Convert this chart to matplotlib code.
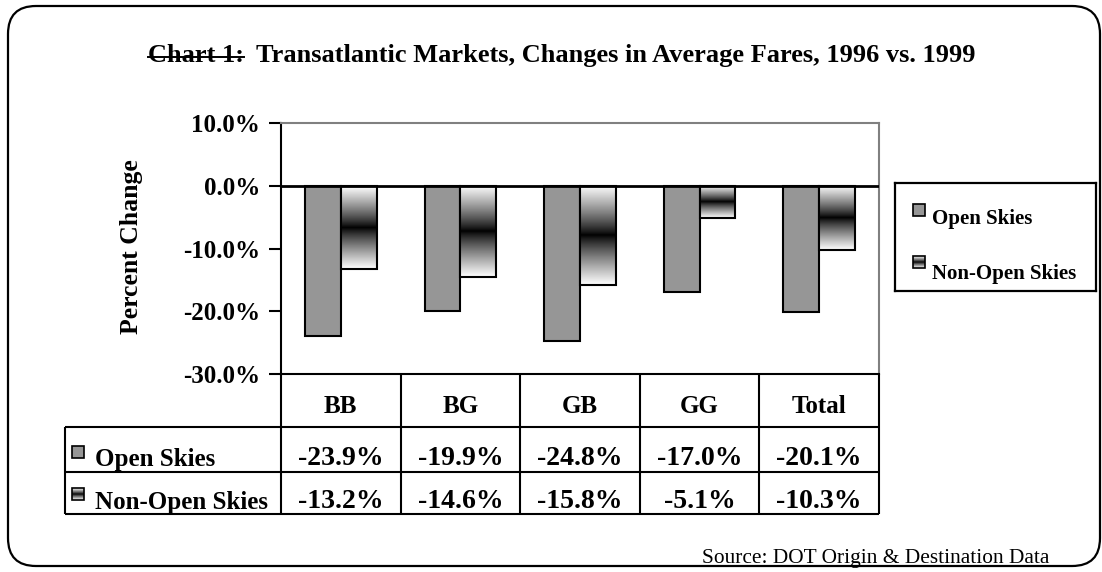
import matplotlib.pyplot as plt
import numpy as np
from matplotlib.patches import FancyBboxPatch, Rectangle
from matplotlib.lines import Line2D

# datos
categories = ['BB', 'BG', 'GB', 'GG', 'Total']
open_skies = [-23.9, -19.9, -24.8, -17.0, -20.1]
non_open_skies = [-13.2, -14.6, -15.8, -5.1, -10.3]
series_names = ['Open Skies', 'Non-Open Skies']
y_ticks = [10, 0, -10, -20, -30]

plt.rcParams['font.family'] = ['Liberation Serif', 'DejaVu Serif']
plt.rcParams['font.weight'] = 'bold'

W, H = 1102, 572
fig = plt.figure(figsize=(W / 100, H / 100), dpi=100)


def fx(px):
    return px / W


def fy(py):
    return 1 - py / H


GRAY = '#969696'
# degradado: blanco arriba/abajo, negro en el centro
t = np.linspace(-1, 1, 256)
grad = (np.abs(t) ** 0.85)[:, None]


def grad_box(ax, x0, x1, y0, y1, z):
    ax.imshow(grad, cmap='gray', vmin=0, vmax=1, extent=[x0, x1, y0, y1],
              aspect='auto', zorder=z, interpolation='bilinear')


# marco redondeado
frame = FancyBboxPatch((0.08, 0.06), 10.92, 5.60,
                       boxstyle='round,pad=0,rounding_size=0.28',
                       transform=fig.dpi_scale_trans, facecolor='none',
                       edgecolor='black', linewidth=1.6)
fig.add_artist(frame)

# titulo
t1 = fig.text(fx(148), fy(62), 'Chart 1:', fontsize=19, va='baseline')
fig.canvas.draw()
bb = t1.get_window_extent()
fig.text(fx(bb.x1 + 12), fy(62),
         'Transatlantic Markets, Changes in Average Fares, 1996 vs. 1999',
         fontsize=19, va='baseline')
fig.add_artist(Line2D([bb.x0 / W, bb.x1 / W], [fy(57), fy(57)],
                      transform=fig.transFigure, color='black', lw=1.4))

# ---------------- grafico de barras ----------------
ax = fig.add_axes([fx(281), fy(374), fx(879) - fx(281), fy(123) - fy(374)])
x = np.arange(len(categories))
w = 0.3
ax.bar(x - w / 2, open_skies, w, color=GRAY, edgecolor='black',
       linewidth=1.5, zorder=3)
bars2 = ax.bar(x + w / 2, non_open_skies, w, facecolor='none',
               edgecolor='black', linewidth=1.5, zorder=4)
for bar in bars2:
    x0 = bar.get_x()
    grad_box(ax, x0, x0 + bar.get_width(), bar.get_y() + bar.get_height(),
             bar.get_y(), 3)

ax.axhline(0, color='black', lw=2, zorder=5)
ax.set_xlim(-0.5, len(categories) - 0.5)
ax.set_ylim(-30, 10)
ax.set_yticks(y_ticks)
ax.set_yticklabels([f'{v:.1f}%' for v in y_ticks])
ax.set_xticks([])
ax.tick_params(axis='y', direction='out', length=9, width=1.5,
               labelsize=18, pad=6)
for s in ['top', 'right']:
    ax.spines[s].set_color('#808080')
    ax.spines[s].set_linewidth(1.5)
for s in ['left', 'bottom']:
    ax.spines[s].set_color('black')
    ax.spines[s].set_linewidth(1.5)
ax.set_ylabel('Percent Change', fontsize=18.5, fontweight='bold')
ax.yaxis.set_label_coords((143 - 281) / 598, (374 - 247) / 251)

# ---------------- tabla de datos ----------------
ax_t = fig.add_axes([fx(65), fy(514), fx(879) - fx(65), fy(374) - fy(514)])
ax_t.set_xlim(0, 814)
ax_t.set_ylim(140, 0)
ax_t.axis('off')
col_w = (814 - 216) / len(categories)
col_edges = [216 + col_w * k for k in range(len(categories) + 1)]
row_edges = [53, 98, 140]
ax_t.vlines(col_edges, 0, 140, color='black', lw=1.5, clip_on=False)
ax_t.vlines(0, 53, 140, color='black', lw=1.5, clip_on=False)
ax_t.hlines(row_edges, 0, 814, color='black', lw=1.5, clip_on=False)

for i, c in enumerate(categories):
    ax_t.text(216 + col_w * (i + 0.5), 39, c, ha='center', va='baseline',
              fontsize=18)
base_rows = [91, 134]
for r, serie in enumerate([open_skies, non_open_skies]):
    for i, v in enumerate(serie):
        ax_t.text(216 + col_w * (i + 0.5), base_rows[r], f'{v:.1f}%',
                  ha='center', va='baseline', fontsize=20)
    ax_t.text(30, base_rows[r] + 1, series_names[r], ha='left',
              va='baseline', fontsize=18)

# iconos de la tabla
ax_t.add_patch(Rectangle((7, 72), 12, 12, facecolor=GRAY, edgecolor='black',
                         lw=1.2, zorder=3))
grad_box(ax_t, 7, 19, 126, 114, 2)
ax_t.add_patch(Rectangle((7, 114), 12, 12, facecolor='none',
                         edgecolor='black', lw=1.2, zorder=3))

# ---------------- leyenda ----------------
ax_l = fig.add_axes([fx(895), fy(291), fx(1096) - fx(895), fy(183) - fy(291)])
ax_l.set_xlim(0, 201)
ax_l.set_ylim(108, 0)
ax_l.set_xticks([])
ax_l.set_yticks([])
for s in ax_l.spines.values():
    s.set_linewidth(1.6)
ax_l.add_patch(Rectangle((18, 21), 12, 12, facecolor=GRAY, edgecolor='black',
                         lw=1.2, zorder=3))
grad_box(ax_l, 18, 30, 85, 73, 2)
ax_l.add_patch(Rectangle((18, 73), 12, 12, facecolor='none',
                         edgecolor='black', lw=1.2, zorder=3))
ax_l.text(37, 41, series_names[0], ha='left', va='baseline', fontsize=15)
ax_l.text(37, 96, series_names[1], ha='left', va='baseline', fontsize=15)

# fuente
fig.text(fx(702), fy(563), 'Source: DOT Origin & Destination Data',
         fontsize=15.4, fontweight='normal', va='baseline')

fig.savefig('out.png', dpi=100)
